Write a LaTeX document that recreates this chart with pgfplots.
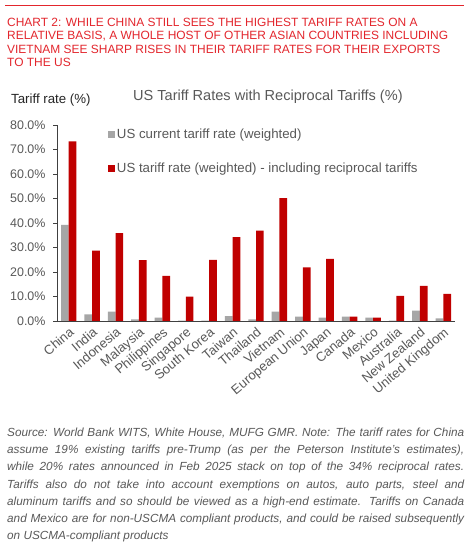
\documentclass[border=0pt]{standalone}
\usepackage{pgfplots}
\pgfplotsset{compat=1.18}
\usepackage{fontspec}
\setmainfont{Liberation Sans}
\definecolor{barred}{HTML}{C00000}
\definecolor{bargray}{HTML}{A6A6A6}
\definecolor{titlered}{HTML}{E3262D}
\definecolor{txtgray}{HTML}{595959}
\begin{document}
\begin{tikzpicture}[x=1bp,y=1bp]
\useasboundingbox (0,0) rectangle (474,549);
\fill[white] (0,0) rectangle (474,549);
\draw[titlered, line width=0.8bp] (5,544) -- (464,544);
\node[anchor=north west, inner sep=0pt, align=left, text=titlered,
  font=\fontsize{12}{13.7}\selectfont] at (7,531.5)
 {CHART 2: WHILE CHINA STILL SEES THE HIGHEST TARIFF RATES ON A\\
  RELATIVE BASIS, A WHOLE HOST OF OTHER ASIAN COUNTRIES INCLUDING\\
  VIETNAM SEE SHARP RISES IN THEIR TARIFF RATES FOR THEIR EXPORTS\\
  TO THE US};
\node[anchor=west, inner sep=0pt, text=black!85, font=\fontsize{13.3}{15}\selectfont] at (11,449) {Tariff rate (\%)};
\node[anchor=west, inner sep=0pt, text=txtgray, font=\fontsize{14.6}{16}\selectfont] at (133,452) {US Tariff Rates with Reciprocal Tariffs (\%)};
\begin{axis}[
  at={(57bp,228bp)}, anchor=south west,
  scale only axis, width=398bp, height=196bp,
  ybar=0pt, bar width=7.7bp,
  ymin=0, ymax=80, xmin=-0.5, xmax=16.5,
  ytick={0,10,...,80},
  yticklabel={\pgfmathprintnumber[fixed,fixed zerofill,precision=1]{\tick}\%},
  /pgf/number format/assume math mode=true,
  y tick label style={font=\fontsize{12.5}{14}\selectfont, text=txtgray, xshift=-4bp},
  xtick=data,
  xticklabels={China,India,Indonesia,Malaysia,Philippines,Singapore,South Korea,Taiwan,Thailand,Vietnam,European Union,Japan,Canada,Mexico,Australia,New Zealand,United Kingdom},
  x tick label style={font=\fontsize{13.2}{14}\selectfont, text=txtgray, rotate=40, anchor=north east, inner sep=1pt},
  xtick style={draw=none},
  axis x line*=bottom, axis y line*=left,
  x axis line style={draw=black!75, line width=0.8bp, -},
  y axis line style={draw=black!75, line width=0.6bp, -},
  ytick style={draw=black!75, line width=0.6bp},
  tick align=outside, major tick length=4bp,
  legend style={draw=none, fill=none, at={(0.12,1.0)}, anchor=north west,
    font=\fontsize{13.3}{15}\selectfont, text=txtgray, row sep=19bp,
    legend cell align=left},
  legend image code/.code={\fill[#1] (0bp,-3.5bp) rectangle (7bp,3.5bp);},
]
\addplot[fill=bargray, draw=none] coordinates {
(0,39.2) (1,2.7) (2,3.8) (3,0.7) (4,1.4) (5,0.1) (6,0.1) (7,2.0) (8,0.7) (9,3.8)
(10,1.8) (11,1.4) (12,1.8) (13,1.4) (14,0.2) (15,4.2) (16,1.1)};
\addlegendentry{US current tariff rate (weighted)}
\addplot[fill=barred, draw=none] coordinates {
(0,73.3) (1,28.7) (2,35.9) (3,24.8) (4,18.4) (5,9.9) (6,24.9) (7,34.2) (8,36.9) (9,50.1)
(10,21.9) (11,25.4) (12,1.8) (13,1.4) (14,10.3) (15,14.3) (16,11.1)};
\addlegendentry{US tariff rate (weighted) - including reciprocal tariffs}
\end{axis}
\node[anchor=north west, inner sep=0pt, text width=457bp, align=justify, text=txtgray,
  font=\fontsize{11.8}{17.2}\selectfont\itshape] at (7,121)
 {Source: World Bank WITS, White House, MUFG GMR. Note: The tariff rates for China\linebreak
  assume 19\% existing tariffs pre-Trump (as per the Peterson Institute's estimates),\linebreak
  while 20\% rates announced in Feb 2025 stack on top of the 34\% reciprocal rates.\linebreak
  Tariffs also do not take into account exemptions on autos, auto parts, steel and\linebreak
  aluminum tariffs and so should be viewed as a high-end estimate. Tariffs on Canada\linebreak
  and Mexico are for non-USCMA compliant products, and could be raised subsequently\linebreak
  on USCMA-compliant products};
\end{tikzpicture}
\end{document}
